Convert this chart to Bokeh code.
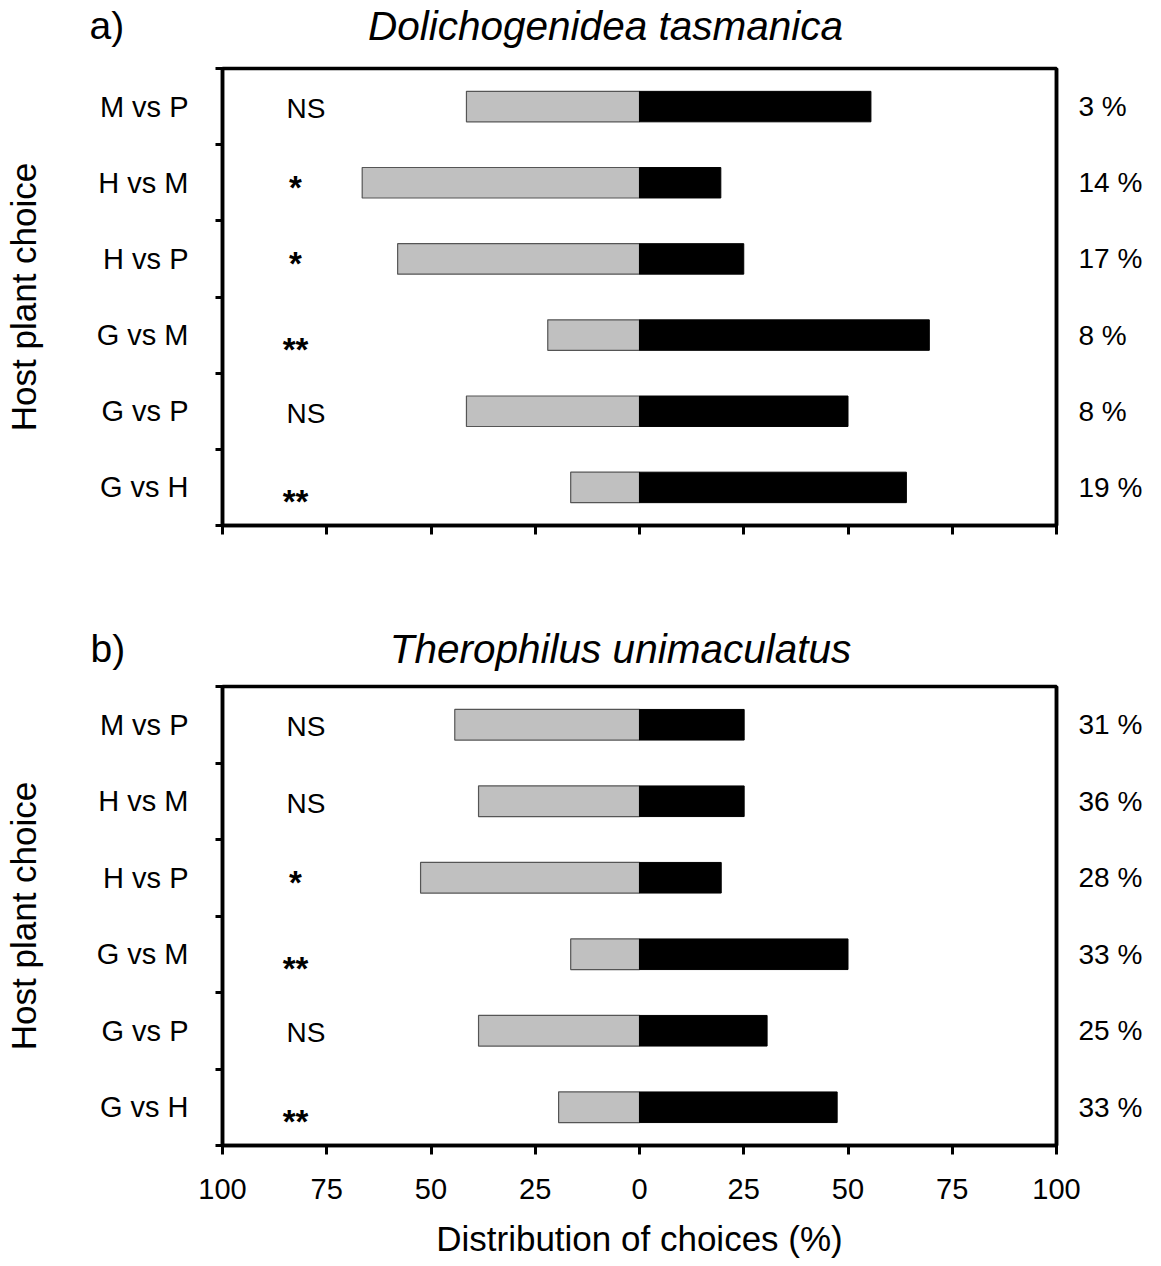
from bokeh.plotting import figure
from bokeh.models import Range1d, LinearAxis, FixedTicker, ColumnDataSource
from bokeh.layouts import column
from bokeh.embed import file_html
from bokeh.resources import INLINE
from bokeh.core.properties import value

# ---------------- data ----------------
categories = ["M vs P", "H vs M", "H vs P", "G vs M", "G vs P", "G vs H"]  # top to bottom

a_letter = "a)"
a_title = "Dolichogenidea tasmanica"
a_gray = [41.5, 66.5, 58.0, 22.0, 41.5, 16.5]
a_black = [55.5, 19.5, 25.0, 69.5, 50.0, 64.0]
a_sig = ["NS", "*", "*", "**", "NS", "**"]
a_pct = ["3 %", "14 %", "17 %", "8 %", "8 %", "19 %"]

b_letter = "b)"
b_title = "Therophilus unimaculatus"
b_gray = [44.3, 38.6, 52.5, 16.5, 38.6, 19.4]
b_black = [25.1, 25.1, 19.6, 50.0, 30.6, 47.4]
b_sig = ["NS", "NS", "*", "**", "NS", "**"]
b_pct = ["31 %", "36 %", "28 %", "33 %", "25 %", "33 %"]

x_ticks = [-100, -75, -50, -25, 0, 25, 50, 75, 100]
x_tick_labels = ["100", "75", "50", "25", "0", "25", "50", "75", "100"]
y_label = "Host plant choice"
x_label = "Distribution of choices (%)"

FONT = "Liberation Sans"
W = 1145


def make_heading(letter, title, height, cy, letter_x, title_cx):
    h = figure(width=W, height=height, output_backend="svg", toolbar_location=None,
               x_range=Range1d(0, W), y_range=Range1d(0, height),
               x_axis_location=None, y_axis_location=None,
               min_border_left=0, min_border_right=0, min_border_top=0, min_border_bottom=0)
    if "frame_align" in h.properties():
        h.frame_align = False
    h.grid.visible = False
    h.outline_line_color = None
    h.background_fill_color = "white"
    h.border_fill_color = "white"
    h.text(x=[letter_x], y=[height - cy], text=[letter], text_align="left",
           text_baseline="middle", text_font=value(FONT), text_font_size="39px",
           text_color="black")
    h.text(x=[title_cx], y=[height - cy], text=[title], text_align="center",
           text_baseline="middle", text_font=value(FONT), text_font_size="40.5px",
           text_font_style="italic", text_color="black")
    return h


def make_panel(gray, black, sig, pct, height, top, bottom, show_x_labels):
    n = len(categories)
    ys = [n - i for i in range(n)]
    p = figure(width=W, height=height, output_backend="svg", toolbar_location=None,
               x_range=Range1d(-100, 100), y_range=Range1d(0.5, n + 0.5),
               x_axis_location=None, y_axis_location=None,
               min_border_left=217, min_border_right=87,
               min_border_top=top, min_border_bottom=bottom)
    p.grid.visible = False
    p.outline_line_color = "black"
    p.outline_line_width = 3.5
    p.background_fill_color = "white"
    p.border_fill_color = "white"

    # left axis: category names at row centres, short ticks at row boundaries
    ya = LinearAxis(ticker=FixedTicker(ticks=ys, minor_ticks=[k + 0.5 for k in range(n + 1)]))
    ya.major_label_overrides = {y: c for y, c in zip(ys, categories)}
    ya.major_tick_line_color = None
    ya.major_tick_out = 0
    ya.major_tick_in = 0
    ya.minor_tick_out = 7
    ya.minor_tick_in = 0
    ya.minor_tick_line_width = 3
    ya.minor_tick_line_color = "black"
    ya.axis_line_width = 3.5
    ya.major_label_standoff = 27
    ya.major_label_text_font = FONT
    ya.major_label_text_font_size = "29px"
    ya.major_label_text_color = "black"
    ya.axis_label = y_label
    ya.axis_label_text_font = FONT
    ya.axis_label_text_font_size = "35px"
    ya.axis_label_text_font_style = "normal"
    ya.axis_label_text_color = "black"
    ya.axis_label_standoff = 51
    p.add_layout(ya, "left")

    # right axis: percentage labels
    ra = LinearAxis(ticker=FixedTicker(ticks=ys, minor_ticks=[]))
    ra.major_label_overrides = {y: t for y, t in zip(ys, pct)}
    ra.major_tick_line_color = None
    ra.major_tick_out = 0
    ra.major_tick_in = 0
    ra.axis_line_width = 3.5
    ra.major_label_standoff = 22
    ra.axis_label_standoff = 0
    ra.major_label_text_font = FONT
    ra.major_label_text_font_size = "28px"
    ra.major_label_text_color = "black"
    p.add_layout(ra, "right")

    xa = LinearAxis(ticker=FixedTicker(ticks=x_ticks, minor_ticks=[]))
    if show_x_labels:
        xa.major_label_overrides = {t: l for t, l in zip(x_ticks, x_tick_labels)}
        xa.axis_label = x_label
    else:
        xa.major_label_overrides = {t: "" for t in x_ticks}
    xa.major_tick_out = 9
    xa.major_tick_in = 0
    xa.major_tick_line_width = 3
    xa.axis_line_width = 3.5
    xa.major_label_standoff = 24
    xa.major_label_text_font = FONT
    xa.major_label_text_font_size = "29px"
    xa.major_label_text_color = "black"
    xa.axis_label_text_font = FONT
    xa.axis_label_text_font_size = "35px"
    xa.axis_label_text_font_style = "normal"
    xa.axis_label_text_color = "black"
    xa.axis_label_standoff = 17
    p.add_layout(xa, "below")

    src = ColumnDataSource(dict(y=ys, gl=[-g for g in gray], black=black, zero=[0] * n))
    p.hbar(y="y", left="gl", right="zero", height=0.40, source=src,
           fill_color="#c0c0c0", line_color="#555555", line_width=1.2)
    p.hbar(y="y", left="zero", right="black", height=0.40, source=src,
           fill_color="black", line_color="black", line_width=1)

    # significance labels
    ns_y = [y for y, s in zip(ys, sig) if s == "NS"]
    p.text(x=[-80] * len(ns_y), y=ns_y, text=["NS"] * len(ns_y), text_align="center",
           text_baseline="middle", y_offset=2, text_font_size="28px",
           text_font=value(FONT), text_color="black")
    st_off = {"*": 5, "**": 14}
    st = [(y, s) for y, s in zip(ys, sig) if s != "NS"]
    ssrc = ColumnDataSource(dict(y=[a for a, _ in st], t=[b for _, b in st],
                                 x=[-82.5] * len(st), off=[st_off[b] for _, b in st]))
    p.text(x="x", y="y", text="t", source=ssrc, text_align="center",
           text_baseline="middle", y_offset="off", text_font_size="33px",
           text_font_style="bold", text_font=value(FONT), text_color="black")
    return p


ha = make_heading(a_letter, a_title, 58, 25, 89, 605)
pa = make_panel(a_gray, a_black, a_sig, a_pct, 550, 10, 83, False)
hb = make_heading(b_letter, b_title, 70, 40, 90, 620)
pb = make_panel(b_gray, b_black, b_sig, b_pct, 582, 8, 115, True)

layout = column(ha, pa, hb, pb, spacing=0)
open("out.html", "w").write(file_html(layout, INLINE))
